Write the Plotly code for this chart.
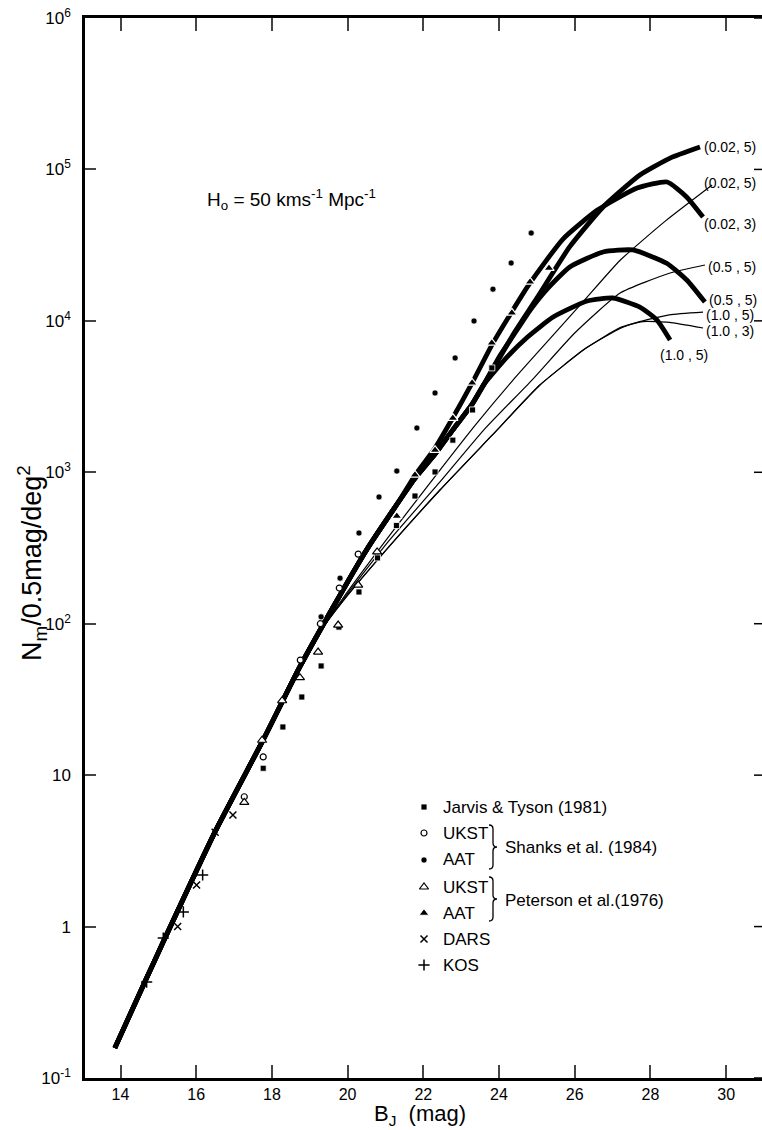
import math
import plotly.graph_objects as go

# ---------------- data ----------------
# shared bright-end part of all model curves
base_B = [13.85, 14.69, 15.13, 16.5, 17.77, 18.74]
base_N = [0.158, 0.457, 0.794, 4.24, 17.1, 52.0]

# heavy curves
t_B = [19.62, 20.5, 21.38, 21.78, 22.31, 22.78, 23.29, 23.81, 24.34, 24.82, 25.69, 26.59, 27.65, 28.44, 28.95, 29.39]
t_N = [129, 307, 656, 955, 1445, 2290, 3890, 6920, 11500, 17800, 34700, 53700, 75300, 82600, 66100, 48500]   # (0.02,3)

lh_B = [19.62, 20.5, 21.38, 21.78, 22.31, 22.78, 23.29, 23.6]
lh_N = [129, 307, 656, 912, 1318, 1905, 2818, 3802]

s_B = [24.0, 24.4, 25.0, 25.87, 26.75, 27.72, 28.52, 29.31]
s_N = [5623, 8318, 14125, 30903, 56494, 91833, 118850, 140600]          # (0.02,5)

h3_B = [24.0, 24.37, 24.82, 25.27, 25.87, 26.75, 27.54, 28.43, 28.96, 29.44]
h3_N = [5754, 7943, 11749, 16218, 22699, 28510, 29380, 23990, 18620, 13300]  # (0.5,5)

h4_B = [24.21, 24.74, 25.43, 26.33, 27.01, 27.72, 28.17, 28.52]
h4_N = [5754, 7762, 10593, 13521, 14158, 12331, 10139, 7464]            # (1.0,5)

# thin curves
ta_B = [19.3, 19.88, 21.1, 22.44, 23.4, 24.37, 25.08, 26.2, 27.2, 28.4, 29.63]
ta_N = [90.2, 147.9, 380.2, 1035, 2089, 4064, 6427, 13183, 25119, 45709, 78886]   # (0.02,5)

tb_B = [19.3, 19.88, 21.1, 22.44, 23.6, 24.87, 26.0, 27.2, 28.52, 29.44]
tb_N = [90.2, 144.5, 354.8, 863, 1905, 4064, 8318, 15276, 20701, 23388]           # (0.5,5)

tc_B = [19.3, 19.88, 21.1, 22.44, 23.8, 25.08, 26.3, 27.2, 27.65, 28.5, 29.39]
tc_N = [90.2, 141.3, 323.6, 764, 1738, 3767, 6607, 8913, 9772, 10965, 11429]      # (1.0,5)

td_B = [19.3, 19.88, 21.1, 22.44, 23.8, 25.08, 26.3, 27.2, 27.8, 28.5, 29.39]
td_N = [90.2, 141.3, 323.6, 764, 1738, 3767, 6607, 9016, 9886, 9772, 8974]        # (1.0,3)

# observations
jt_B = [17.77, 18.29, 18.79, 19.30, 19.77, 20.30, 20.79, 21.29, 21.78, 22.31, 22.78, 23.30, 23.81]
jt_N = [11.1, 20.8, 32.8, 52.6, 95, 162, 272, 445, 697, 1005, 1630, 2580, 4890]

sh_ukst_B = [17.27, 17.77, 18.75, 19.28, 19.78, 20.28]
sh_ukst_N = [7.2, 13.2, 57.5, 100, 172, 288]

sh_aat_B = [19.30, 19.80, 20.30, 20.83, 21.30, 21.83, 22.31, 22.84, 23.34, 23.84, 24.32, 24.85]
sh_aat_N = [111, 200, 397, 687, 1019, 1960, 3340, 5690, 9980, 16200, 24100, 38000]

pe_ukst_B = [17.27, 17.74, 18.27, 18.74, 19.22, 19.75, 20.28, 20.78]
pe_ukst_N = [6.6, 17, 31, 44, 65, 98, 180, 298]

pe_aat_B = [21.30, 21.78, 22.31, 22.78, 23.29, 23.81, 24.34, 24.82, 25.32]
pe_aat_N = [514, 960, 1400, 2280, 3890, 7150, 11300, 18100, 22300]

dars_B = [15.51, 16.01, 16.50, 16.97]
dars_N = [1.0, 1.88, 4.2, 5.46]

kos_B = [14.69, 15.13, 15.66, 16.17]
kos_N = [0.43, 0.84, 1.25, 2.19]

x_ticks = [14, 16, 18, 20, 22, 24, 26, 28, 30]
y_ticks = [0.1, 1, 10, 100, 1e3, 1e4, 1e5, 1e6]
y_ticktext = ["10<sup>-1</sup>", "1", "10", "10<sup>2</sup>", "10<sup>3</sup>",
              "10<sup>4</sup>", "10<sup>5</sup>", "10<sup>6</sup>"]

# ---------------- layout geometry ----------------
W, H = 762, 1130
ML, MR, MT, MB = 85, 0, 18, 52
PW, PH = W - ML - MR, H - MT - MB
FONT = "Liberation Sans, Arial, sans-serif"


def pp(px, py):
    """pixel -> paper"""
    return (px - ML) / PW, (H - MB - py) / PH


fig = go.Figure()

thin = dict(color="black", width=1.2, shape="spline", smoothing=0.5)
heavy = dict(color="black", width=4.8, shape="spline", smoothing=0.5)

for bx, ny in [(ta_B, ta_N), (tb_B, tb_N), (tc_B, tc_N), (td_B, td_N)]:
    fig.add_trace(go.Scatter(x=base_B + bx, y=base_N + ny, mode="lines", line=thin,
                             showlegend=False, hoverinfo="skip"))

fig.add_trace(go.Scatter(x=base_B + t_B, y=base_N + t_N, mode="lines", line=heavy,
                         showlegend=False, hoverinfo="skip"))
for bx, ny in [(s_B, s_N), (h3_B, h3_N), (h4_B, h4_N)]:
    fig.add_trace(go.Scatter(x=base_B + lh_B + bx, y=base_N + lh_N + ny, mode="lines",
                             line=heavy, showlegend=False, hoverinfo="skip"))

styles = {
    "jt": dict(symbol="square", size=6, color="black", line=dict(color="white", width=0.8)),
    "sh_ukst": dict(symbol="circle", size=6, color="white", line=dict(color="black", width=1.2)),
    "sh_aat": dict(symbol="circle", size=6, color="black", line=dict(color="white", width=0.6)),
    "pe_ukst": dict(symbol="triangle-up", size=8, color="white", line=dict(color="black", width=1.2)),
    "pe_aat": dict(symbol="triangle-up", size=9, color="black", line=dict(color="white", width=1.2)),
    "dars": dict(symbol="x-thin", size=7, color="black", line=dict(color="black", width=1.5)),
    "kos": dict(symbol="cross-thin", size=8, color="black", line=dict(color="black", width=1.5)),
}

for key, bx, ny in [("jt", jt_B, jt_N), ("sh_ukst", sh_ukst_B, sh_ukst_N), ("sh_aat", sh_aat_B, sh_aat_N),
                    ("pe_ukst", pe_ukst_B, pe_ukst_N), ("pe_aat", pe_aat_B, pe_aat_N),
                    ("dars", dars_B, dars_N), ("kos", kos_B, kos_N)]:
    fig.add_trace(go.Scatter(x=bx, y=ny, mode="markers", marker=styles[key],
                             showlegend=False, hoverinfo="skip"))

# ---------------- hand-made legend ----------------
LEG_FONT = dict(size=17, family=FONT, color="black")
leg_rows = [("jt", 807, "Jarvis & Tyson (1981)"), ("sh_ukst", 833, "UKST"), ("sh_aat", 860, "AAT"),
            ("pe_ukst", 887, "UKST"), ("pe_aat", 913, "AAT"), ("dars", 939, "DARS"), ("kos", 965, "KOS")]
annotations = []
for key, py, label in leg_rows:
    x0, y0 = pp(424, py)
    fig.add_trace(go.Scatter(x=[x0], y=[y0], xaxis="x3", yaxis="y3", mode="markers",
                             marker=styles[key], showlegend=False, hoverinfo="skip"))
    lx, ly = pp(441, py)
    annotations.append(dict(x=lx, y=ly, xref="paper", yref="paper", text=label, showarrow=False,
                            xanchor="left", yanchor="middle", font=LEG_FONT))

for text, py in [("Shanks et al. (1984)", 847), ("Peterson et al.(1976)", 900)]:
    lx, ly = pp(503, py)
    annotations.append(dict(x=lx, y=ly, xref="paper", yref="paper", text=text, showarrow=False,
                            xanchor="left", yanchor="middle", font=LEG_FONT))


def brace(px, top, bot):
    mid = (top + bot) / 2
    pts = [(px, top), (px + 4, top), (px + 4, top + 4), (px + 4, mid - 4), (px + 4, mid), (px + 8, mid),
           (px + 4, mid), (px + 4, mid + 4), (px + 4, bot - 4), (px + 4, bot), (px, bot)]
    c = [pp(a, b) for a, b in pts]
    return ("M {0[0]},{0[1]} Q {1[0]},{1[1]} {2[0]},{2[1]} L {3[0]},{3[1]} Q {4[0]},{4[1]} {5[0]},{5[1]} "
            "Q {6[0]},{6[1]} {7[0]},{7[1]} L {8[0]},{8[1]} Q {9[0]},{9[1]} {10[0]},{10[1]}").format(*c)


shapes = [dict(type="path", path=brace(489, 825, 869), xref="paper", yref="paper",
               line=dict(color="black", width=1.3)),
          dict(type="path", path=brace(489, 877, 921), xref="paper", yref="paper",
               line=dict(color="black", width=1.3))]

# right-hand inward ticks (the right frame line itself lies just outside the picture)
for v in y_ticks:
    shapes.append(dict(type="line", xref="paper", yref="y", x0=1, x1=1 - 8 / PW, y0=v, y1=v,
                       line=dict(color="black", width=1.5)))

# ---------------- curve labels ----------------
lab_font = dict(size=14, family=FONT, color="black")
curve_labels = [
    (s_B[-1], s_N[-1], "(0.02, 5)", 2, 0),
    (ta_B[-1], ta_N[-1], "(0.02, 5)", -10, 2),
    (t_B[-1], t_N[-1], "(0.02, 3)", -1, -7),
    (tb_B[-1], tb_N[-1], "(0.5 , 5)", 1, -2),
    (h3_B[-1], h3_N[-1], "(0.5 , 5)", 2, 2),
    (tc_B[-1], tc_N[-1], "(1.0 , 5)", 1, -3),
    (td_B[-1], td_N[-1], "(1.0 , 3)", 1, -3),
    (h4_B[-1], h4_N[-1], "(1.0 , 5)", -12, -15),
]
for bx, ny, txt, xs, ys in curve_labels:
    annotations.append(dict(x=bx, y=math.log10(ny), xref="x", yref="y", text=txt, showarrow=False,
                            xanchor="left", yanchor="middle", xshift=xs, yshift=ys, font=lab_font))

# H0 note and axis titles
hx, hy = pp(205, 200)
annotations.append(dict(x=hx, y=hy, xref="paper", yref="paper", showarrow=False, xanchor="left",
                        yanchor="middle", text="H<sub>o</sub> = 50 kms<sup>-1</sup> Mpc<sup>-1</sup>",
                        font=dict(size=19, family=FONT, color="black")))
tx, ty = pp(420, 1115)
annotations.append(dict(x=tx, y=ty, xref="paper", yref="paper", showarrow=False, xanchor="center",
                        yanchor="middle", text="B<sub>J</sub>  (mag)",
                        font=dict(size=22, family=FONT, color="black")))
yx, yy = pp(32, 563)
annotations.append(dict(x=yx, y=yy, xref="paper", yref="paper", showarrow=False, xanchor="center",
                        yanchor="middle", textangle=-90, text="N<sub>m</sub>/0.5mag/deg<sup>2</sup>",
                        font=dict(size=27, family=FONT, color="black")))

fig.update_layout(
    width=W, height=H, margin=dict(l=ML, r=MR, t=MT, b=MB),
    paper_bgcolor="white", plot_bgcolor="white", showlegend=False,
    font=dict(family=FONT, color="black"),
    xaxis=dict(range=[13.062, 30.948], tickvals=x_ticks, ticks="inside", ticklen=13, tickwidth=1.5,
               showline=True, linewidth=2.5, linecolor="black", mirror="ticks", showgrid=False,
               zeroline=False, tickfont=dict(size=16, family=FONT, color="black")),
    yaxis=dict(type="log", range=[-1, 6], tickvals=y_ticks, ticktext=y_ticktext, ticks="inside",
               ticklen=11, tickwidth=1.5, showline=True, linewidth=2.5, linecolor="black",
               showgrid=False, zeroline=False, ticklabelstandoff=8,
               tickfont=dict(size=17, family=FONT, color="black")),
    xaxis3=dict(domain=[0, 1], range=[0, 1], visible=False, overlaying="x", anchor="y3"),
    yaxis3=dict(domain=[0, 1], range=[0, 1], visible=False, overlaying="y", anchor="x3"),
    annotations=annotations, shapes=shapes,
)

fig.write_html("out.html")
